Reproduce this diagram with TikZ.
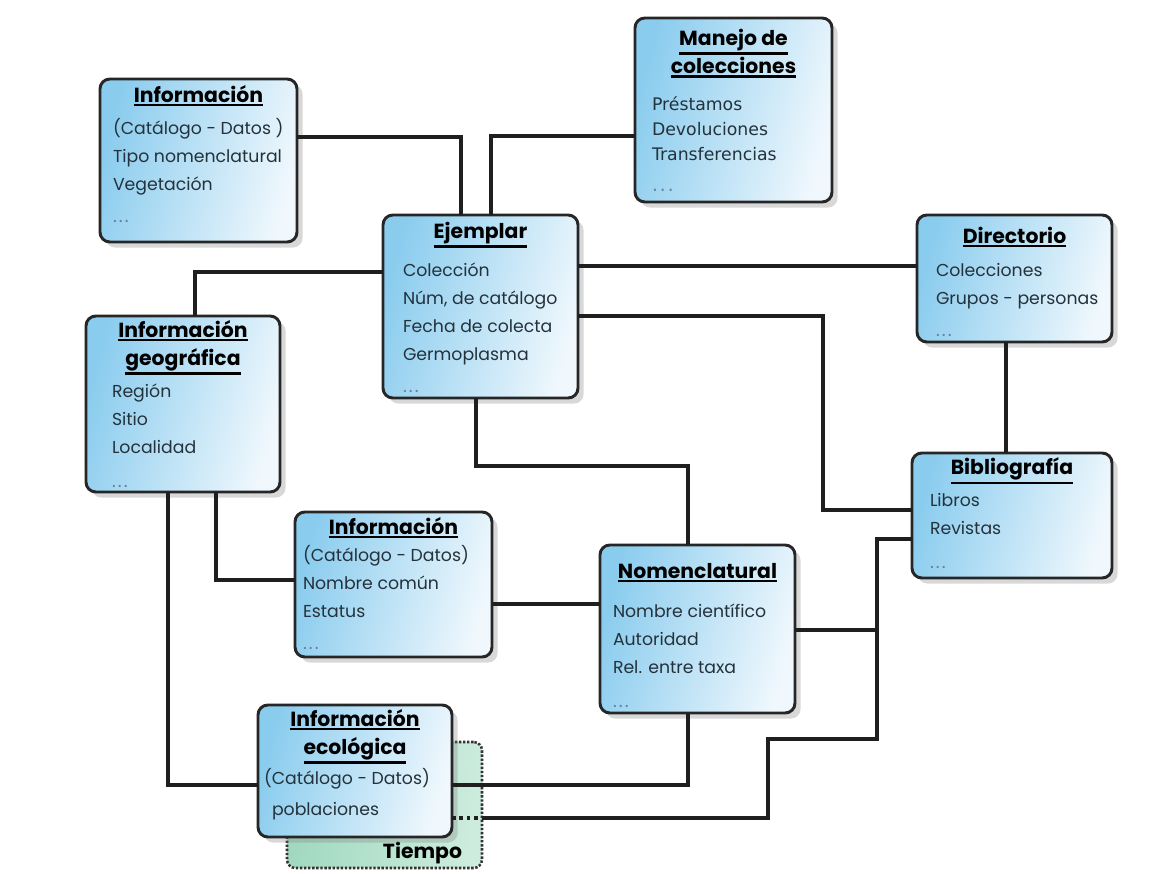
\documentclass[tikz,border=0pt]{standalone}
\usepackage{fontspec}
\setmainfont{Poppins}
\newfontfamily\verd{DejaVu Sans}
\usetikzlibrary{shadows}
\newlength\pxu \setlength\pxu{0.025cm}
\definecolor{boxblue}{RGB}{138,204,238}
\definecolor{boxwhite}{RGB}{240,248,253}
\definecolor{bodycol}{RGB}{36,50,60}
\definecolor{dotcol}{RGB}{100,130,155}
\definecolor{tgreen}{RGB}{158,216,190}
\definecolor{tgreenl}{RGB}{205,236,222}
\newcommand\ttlfont{\fontsize{14.5}{20}\selectfont\bfseries\color{black}}
\newcommand\bdyfont{\fontsize{12.3}{19.9}\selectfont\color{bodycol}}
\newcommand\ttl[1]{\setbox0=\hbox{\ttlfont #1}\leavevmode\vtop{\box0\kern1.2pt\hrule height 1.6pt}}
\newcommand\dts{{\fontsize{13}{10}\selectfont\color{dotcol}.\kern1.5pt.\kern1.5pt.}}
\newcommand\ibox[9]{%
  \node[box, anchor=north west] (#1) at (#2,#3) {\parbox[c][#5\pxu][t]{#4\pxu}{%
    \vspace*{#6\pxu}%
    {\centering\fontsize{14.5}{20}\selectfont #8\par}%
    {\bdyfont\raggedright\leftskip=#7\pxu\relax #9\par}}};}
\tikzset{
  box/.style={draw=black!85, line width=2.1pt, rounded corners=7pt, inner sep=0pt, outer sep=0pt,
    left color=boxblue, right color=boxwhite, shading angle=75,
    drop shadow={shadow xshift=4pt, shadow yshift=-4pt, opacity=0.3}},
  tbox/.style={draw=black!80, line width=1.8pt, dash pattern=on 1.7pt off 1.2pt, rounded corners=6pt,
    inner sep=0pt, outer sep=0pt, left color=tgreen, right color=tgreenl, shading angle=80},
  conn/.style={draw=black!88, line width=2.3pt},
  dconn/.style={draw=black!88, line width=2.5pt, dash pattern=on 2.5pt off 2.8pt},
}
\begin{document}
\begin{tikzpicture}[x=0.025cm, y=-0.025cm]
\fill[white] (0,0) rectangle (1158,874);
\useasboundingbox (0,0) rectangle (1158,874);

% Tiempo (behind ecological box)
\node[tbox, anchor=north west] (tiempo) at (287,742) {\parbox[c][126\pxu][b]{195\pxu}{%
  {\raggedleft\ttlfont Tiempo\hspace*{20\pxu}\par}\vspace*{4\pxu}}};

\ibox{infocat}{100}{79}{197}{163}{6}{13}{\ttl{Información}\par\vspace{5\pxu}}%
  {(Catálogo - Datos )\\Tipo nomenclatural\\Vegetación\\[4\pxu]\dts}
\ibox{manejo}{635}{18}{197}{184}{11}{17}{\ttl{Manejo de}\\\ttl{colecciones}\par\vspace{12\pxu}}%
  {\verd\fontsize{12.3}{17.8}\selectfont Préstamos\\Devoluciones\\Transferencias\\[6\pxu]\dts}
\ibox{ejemplar}{383}{215}{195}{183}{7}{20}{\ttl{Ejemplar}\par\vspace{10\pxu}}%
  {Colección\\Núm, de catálogo\\Fecha de colecta\\Germoplasma\\[4\pxu]\dts}
\ibox{directorio}{917}{215}{195}{127}{12}{19}{\ttl{Directorio}\par\vspace{5\pxu}}%
  {Colecciones\\Grupos - personas\\[4\pxu]\dts}
\ibox{geo}{86}{316}{194}{176}{4}{26}{\ttl{Información}\\\ttl{geográfica}\par\vspace{4\pxu}}%
  {Región\\Sitio\\Localidad\\[6\pxu]\dts}
\ibox{infonom}{295}{512}{197}{145}{5}{8}{\ttl{Información}\par}%
  {(Catálogo - Datos)\\Nombre común\\Estatus\\[4\pxu]\dts}
\ibox{nomen}{600}{545}{195}{168}{18}{13}{\ttl{Nomenclatural}\par\vspace{11\pxu}}%
  {Nombre científico\\Autoridad\\Rel. entre taxa\\[6\pxu]\dts}
\ibox{biblio}{912}{453}{200}{125}{5}{18}{\ttl{Bibliografía}\par\vspace{4\pxu}}%
  {Libros\\Revistas\\[6\pxu]\dts}
\ibox{infoeco}{258}{705}{194}{132}{4}{6}{\ttl{Información}\\\ttl{ecológica}\par\vspace{2\pxu}}%
  {(Catálogo - Datos)\\[3\pxu]\hspace*{8\pxu}poblaciones}

% connectors
\draw[conn] (infocat.east |- 0,137) -| (461,0 |- ejemplar.north);
\draw[conn] (manejo.west |- 0,136) -| (491,0 |- ejemplar.north);
\draw[conn] (ejemplar.west |- 0,272) -| (195,0 |- geo.north);
\draw[conn] (ejemplar.east |- 0,266) -- (directorio.west |- 0,266);
\draw[conn] (ejemplar.east |- 0,316) -| (823,510) -- (biblio.west |- 0,510);
\draw[conn] (476,0 |- ejemplar.south) |- (688,466) -- (688,0 |- nomen.north);
\draw[conn] (1006,0 |- directorio.south) -- (1006,0 |- biblio.north);
\draw[conn] (216,0 |- geo.south) |- (infonom.west |- 0,580);
\draw[conn] (168,0 |- geo.south) |- (infoeco.west |- 0,785);
\draw[conn] (infonom.east |- 0,604) -- (nomen.west |- 0,604);
\coordinate (tj) at (877,630);
\draw[conn] (nomen.east |- tj) -- (tj);
\draw[conn] (biblio.west |- 0,539) -| (877,739) -| (768,818) -- (tiempo.east |- 0,818);
\draw[conn] (688,0 |- nomen.south) |- (infoeco.east |- 0,785);
\draw[dconn] (infoeco.east |- 0,818) -- (tiempo.east |- 0,818);
\end{tikzpicture}
\end{document}
